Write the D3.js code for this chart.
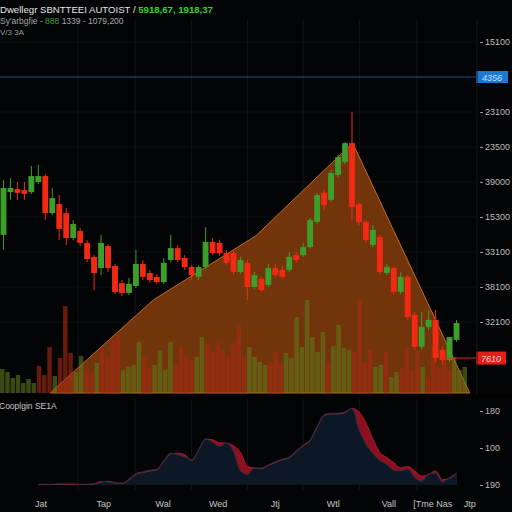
<!DOCTYPE html>
<html>
<head>
<meta charset="utf-8">
<script src="https://cdn.jsdelivr.net/npm/d3@7"></script>
<style>
  html, body { margin: 0; padding: 0; background: #030405; }
  svg { display: block; font-family: "Liberation Sans", Arial, sans-serif; }
</style>
</head>
<body>
<div id="chart"></div>
<script>
// Candles: open, high, low, close
const opens  = [33245,33855,33900,33885,33855,34000,34085,33555,33685,33555,33200,33300,33130,32930,32770,33085,32800,32555,32415,32515,32830,32700,32645,32570,32885,33055,32915,32785,32645,32785,33145,33130,32985,32985,32715,32845,32500,32615,32530,32770,32745,32745,32955,32955,33070,33430,33845,33745,34100,34285,34555,33685,33430,33100,33215,32700,32770,32430,32645,32100,31645,31930,32030,31600,31455,31745];
const highs  = [34030,34055,34000,34000,34230,34245,34115,33915,33815,33630,33455,33345,33170,32955,33245,33115,32830,32600,32630,33030,32885,32745,32685,32915,33245,33100,32955,32815,32815,33355,33200,33170,33030,33030,32930,32885,32715,32645,32830,32830,32800,33000,33000,33130,33485,33845,33885,34170,34385,34570,35000,33715,33455,33385,33245,32830,32800,32715,32670,32145,32145,32170,32170,31645,31785,32030];
const lows   = [33030,33745,33745,33745,33830,33970,33455,33530,33170,33100,33170,33085,32855,32455,32670,32715,32400,32370,32385,32485,32600,32555,32545,32545,32855,32855,32745,32600,32600,32755,32955,32945,32815,32670,32685,32315,32470,32430,32500,32645,32615,32715,32855,32930,33045,33400,33600,33715,34070,34255,33455,33385,33130,33070,32670,32670,32385,32400,32030,31600,31600,31885,31430,31385,31430,31715];
const closes = [33915,33915,33845,33830,34085,34085,33555,33770,33330,33200,33400,33130,32900,32700,33130,32770,32430,32415,32545,32830,32645,32600,32570,32845,33055,32885,32785,32670,32785,33145,32985,32985,32845,32715,32885,32500,32670,32455,32770,32670,32645,32930,32885,33070,33455,33815,33670,34130,34355,34555,33645,33430,33170,33315,32715,32785,32430,32645,32070,31645,31930,32030,31485,31455,31785,31985];

// Volume bars (1 = up, 0 = down)
const volumes = [240,210,150,180,100,140,100,270,180,460,170,350,870,400,210,370,240,200,300,450,360,530,580,230,260,280,510,350,250,280,430,230,510,280,460,360,330,360,560,510,410,500,430,360,500,680,360,460,360,310,280,310,410,300,400,350,760,460,930,560,410,610,310,470,680,450,430,410,930,310,430,260,280,410,160,210,250,450,230,430,260,160,460,260,330,230,360,230,260];
const volUp   = [1,1,1,1,1,1,1,0,0,0,1,0,0,0,1,1,0,0,1,0,0,0,0,1,1,1,1,0,0,1,1,1,1,0,0,0,0,1,1,0,0,0,0,0,0,0,0,1,1,1,1,0,0,0,1,1,1,1,1,1,1,1,0,1,1,1,1,0,0,0,0,1,1,0,1,1,0,0,0,0,1,0,0,0,0,0,1,1,1];

// Lower indicator: two series on candle indices 5..65
const indStart = 5;
const indMain = [2,2,2,3,3,3,2,2,4,10,8,5,5,16,31,36,40,43,66,86,82,76,68,96,124,115,104,113,90,38,28,46,46,55,63,70,76,92,108,122,158,190,194,194,198,207,150,110,85,66,55,40,38,42,20,10,30,32,8,20,32];
const indLag  = [1,1,1,2,2,2,1,1,3,8,10,6,4,14,29,34,38,41,64,84,86,82,66,94,124,122,114,113,106,88,50,46,44,53,61,68,74,90,106,120,156,188,192,192,196,207,198,168,124,88,74,60,46,50,38,24,28,38,14,18,32];

// Wedge outline: [candle index, price]
const wedge = [[7.2,30986],[22,32315],[36.7,33230],[50.6,34557],[67.4,30986]];

// Axis ticks / labels
const priceTicks  = [36000,35000,34500,34000,33500,33000,32500,32000];
const priceLabels = ["15100","23100","23500","39000","15300","33100","38100","32100"];
const indTicks  = [200,100,0];
const indLabels = ["180","100","190"];
const dateAt     = [5.9,14.9,23.4,31.3,39.5,47.8,55.8,62.1,67.4];
const dateLabels = ["Jat","Tap","Wal","Wed","Jtj","Wtl","Vall","[Tme Nas","Jtp"];
const gridAt = [11.2,19.4,27.5,35.5,43.5,51.6,59.8];

const bluePrice = 35500, blueLabel = "4356";
const redPrice = 31485, redLabel = "7610";

var width = 512, height = 512;
var plotRight = 476;
var up = "#3e9e2c", down = "#f22a14";

var svg = d3.select("#chart").append("svg")
  .attr("width", width).attr("height", height);

svg.append("rect").attr("width", width).attr("height", height).attr("fill", "#030405");

var xi = d3.scaleLinear().domain([0, 66]).range([0, 460]);
var y = d3.scaleLinear().domain([32000, 36000]).range([322, 42]);
var xv = d3.scaleBand().domain(d3.range(volumes.length)).range([0, 467]).paddingInner(0.15);
var yv = d3.scaleLinear().domain([0, 1000]).range([393, 293]);
var yi = d3.scaleLinear().domain([0, 200]).range([485, 411]);

// grid
svg.append("g").selectAll("line").data(gridAt).enter().append("line")
  .attr("x1", d => xi(d)).attr("x2", d => xi(d))
  .attr("y1", 20).attr("y2", 490)
  .attr("stroke", "#12161c").attr("stroke-width", 1);
svg.append("g").selectAll("line").data(priceTicks).enter().append("line")
  .attr("x1", 0).attr("x2", plotRight)
  .attr("y1", d => y(d)).attr("y2", d => y(d))
  .attr("stroke", "#0c0f13");

// wedge
svg.append("path")
  .attr("d", d3.line().x(d => xi(d[0])).y(d => y(d[1]))(wedge) + "Z")
  .attr("fill", "#7e3a0c").attr("fill-opacity", 0.9)
  .attr("stroke", "#c8692a").attr("stroke-width", 1);

// volume
svg.append("g").selectAll("rect").data(volumes).enter().append("rect")
  .attr("x", (d, i) => xv(i)).attr("width", xv.bandwidth())
  .attr("y", d => yv(d)).attr("height", d => yv(0) - yv(d))
  .attr("fill", (d, i) => volUp[i] ? "#5f7a1c" : "#a82c12")
  .attr("opacity", 0.6);

// candles
var candles = opens.map((o, i) => ({ i: i, o: o, h: highs[i], l: lows[i], c: closes[i] }));
var bw = (xi(1) - xi(0)) * 0.84;
var cg = svg.append("g").selectAll("g").data(candles).enter().append("g");
cg.append("line")
  .attr("x1", d => xi(d.i + 0.5)).attr("x2", d => xi(d.i + 0.5))
  .attr("y1", d => y(d.h)).attr("y2", d => y(d.l))
  .attr("stroke", d => d.c >= d.o ? up : down).attr("stroke-width", 1);
cg.append("rect")
  .attr("x", d => xi(d.i + 0.5) - bw / 2).attr("width", bw)
  .attr("y", d => y(Math.max(d.o, d.c)))
  .attr("height", d => Math.max(1.5, Math.abs(y(d.o) - y(d.c))))
  .attr("fill", d => d.c >= d.o ? up : down);

// blue price line + tag
svg.append("line").attr("x1", 0).attr("x2", plotRight)
  .attr("y1", y(bluePrice)).attr("y2", y(bluePrice))
  .attr("stroke", "#1f4f8a").attr("stroke-width", 1.2);
svg.append("rect").attr("x", plotRight).attr("y", y(bluePrice) - 6)
  .attr("width", 32).attr("height", 12).attr("fill", "#1c78d2");
svg.append("text").attr("x", plotRight + 16).attr("y", y(bluePrice) + 3.5)
  .attr("text-anchor", "middle").attr("font-size", 9).attr("fill", "#bfe0ff")
  .attr("font-style", "italic").text(blueLabel);

// red price line + tag
svg.append("line").attr("x1", xi(63.5)).attr("x2", plotRight)
  .attr("y1", y(redPrice)).attr("y2", y(redPrice))
  .attr("stroke", "#d8281a").attr("stroke-width", 1);
svg.append("rect").attr("x", plotRight).attr("y", y(redPrice) - 6.5)
  .attr("width", 30).attr("height", 13).attr("fill", "#e41e18");
svg.append("text").attr("x", plotRight + 15).attr("y", y(redPrice) + 3.5)
  .attr("text-anchor", "middle").attr("font-size", 9).attr("fill", "#ffd0c8")
  .attr("font-style", "italic").text(redLabel);

// right price axis
var yAxis = d3.axisRight(y).tickValues(priceTicks)
  .tickFormat((d, i) => priceLabels[i]).tickSize(3).tickPadding(2);
var ya = svg.append("g").attr("transform", "translate(" + (plotRight + 4) + ",0)").call(yAxis);
ya.select(".domain").remove();
ya.selectAll("line").attr("stroke", "#9a9a9a");
ya.selectAll("text").attr("fill", "#bdbdbd").attr("font-size", 9);
svg.append("line").attr("x1", plotRight + 1).attr("x2", plotRight + 1)
  .attr("y1", 20).attr("y2", 396).attr("stroke", "#14181e");

// bottom separator
svg.append("rect").attr("x", 0).attr("y", 394).attr("width", width).attr("height", 5).attr("fill", "#020203");

// indicator panel
var indData = indMain.map((v, k) => ({ i: indStart + k, a: v, b: indLag[k] }));
var areaB = d3.area().x(d => xi(d.i + 0.5)).y0(yi(0)).y1(d => yi(d.b)).curve(d3.curveMonotoneX);
var areaA = d3.area().x(d => xi(d.i + 0.5)).y0(yi(0)).y1(d => yi(d.a)).curve(d3.curveMonotoneX);
svg.append("path").datum(indData).attr("d", areaB).attr("fill", "#8c1020");
svg.append("path").datum(indData).attr("d", areaA).attr("fill", "#0c1826");
svg.append("path").datum(indData)
  .attr("d", d3.line().x(d => xi(d.i + 0.5)).y(d => yi(d.b)).curve(d3.curveMonotoneX))
  .attr("fill", "none").attr("stroke", "#b01828").attr("stroke-width", 1);
svg.append("path").datum(indData)
  .attr("d", d3.line().x(d => xi(d.i + 0.5)).y(d => yi(d.a)).curve(d3.curveMonotoneX))
  .attr("fill", "none").attr("stroke", "#1e3248").attr("stroke-width", 1);

var iAxis = d3.axisRight(yi).tickValues(indTicks)
  .tickFormat((d, i) => indLabels[i]).tickSize(3).tickPadding(2);
var ia = svg.append("g").attr("transform", "translate(" + (plotRight + 4) + ",0)").call(iAxis);
ia.select(".domain").remove();
ia.selectAll("line").attr("stroke", "#9a9a9a");
ia.selectAll("text").attr("fill", "#bdbdbd").attr("font-size", 9);

svg.append("text").attr("x", -1).attr("y", 409).attr("font-size", 8.5)
  .attr("fill", "#c8c8c8").text("Cooplgin SE1A");

// date labels
svg.append("g").selectAll("text").data(dateLabels).enter().append("text")
  .attr("x", (d, i) => xi(dateAt[i])).attr("y", 507)
  .attr("text-anchor", "middle").attr("font-size", 9).attr("fill", "#c4c4c4")
  .text(d => d);

// header
var h1 = svg.append("text").attr("x", 0).attr("y", 13).attr("font-size", 9.6).attr("fill", "#e6e6e6");
h1.append("tspan").text("Dwellegr SBNTTEEI AUTOIST / ");
h1.append("tspan").attr("fill", "#3ccf3c").attr("font-weight", "bold").text("5918,67, 1918,37");
var h2 = svg.append("text").attr("x", 0).attr("y", 24).attr("font-size", 8.5).attr("fill", "#a8a8a8");
h2.append("tspan").text("Sy'arbgfie - ");
h2.append("tspan").attr("fill", "#3a9a3a").text("888");
h2.append("tspan").text(" 1339 - 1079,200");
svg.append("text").attr("x", 0).attr("y", 35).attr("font-size", 8).attr("fill", "#9a9a9a").text("V/3 3A");
</script>
</body>
</html>
